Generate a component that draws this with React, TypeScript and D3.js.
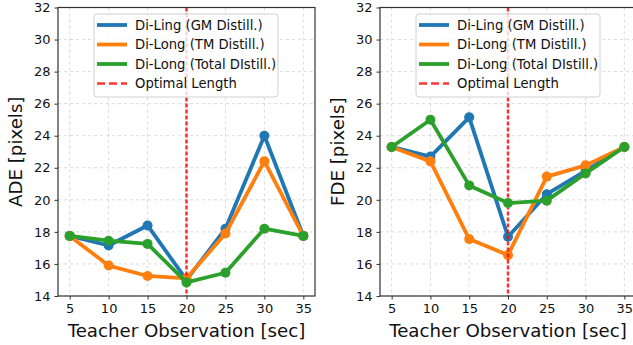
import { useEffect, useRef } from 'react'
import * as d3 from 'd3'

const observation = [5, 10, 15, 20, 25, 30, 35]
const seriesNames = ['Di-Ling (GM Distill.)', 'Di-Long (TM Distill.)', 'Di-Long (Total DIstill.)']
const seriesColors = ['#1f77b4', '#ff7f0e', '#2ca02c']
const optimalLength = 20
const yTicks = [14, 16, 18, 20, 22, 24, 26, 28, 30, 32]

const adeGM = [17.75, 17.15, 18.4, 15.0, 18.2, 24.0, 17.75]
const adeTM = [17.75, 15.9, 15.25, 15.1, 17.9, 22.4, 17.75]
const adeTotal = [17.75, 17.45, 17.25, 14.85, 15.45, 18.2, 17.75]

const fdeGM = [23.3, 22.7, 25.15, 17.7, 20.35, 21.8, 23.3]
const fdeTM = [23.3, 22.4, 17.55, 16.55, 21.45, 22.15, 23.3]
const fdeTotal = [23.3, 25.0, 20.9, 19.8, 19.95, 21.65, 23.3]

const FONT = 'DejaVu Sans, sans-serif'

function drawPanel(
  g: d3.Selection<SVGGElement, unknown, null, undefined>,
  left: number,
  right: number,
  ylabel: string,
  ylabelX: number,
  series: number[][],
) {
  const top = 7.5
  const bottom = 296
  const x = d3.scaleLinear().domain([3.5, 36.5]).range([left, right])
  const y = d3.scaleLinear().domain([14, 32]).range([bottom, top])

  // grid
  g.append('g')
    .selectAll('line')
    .data(observation)
    .join('line')
    .attr('x1', d => x(d)).attr('x2', d => x(d))
    .attr('y1', top).attr('y2', bottom)
    .attr('stroke', '#b0b0b0').attr('stroke-opacity', 0.6)
    .attr('stroke-width', 0.8).attr('stroke-dasharray', '3,3')
  g.append('g')
    .selectAll('line')
    .data(yTicks)
    .join('line')
    .attr('x1', left).attr('x2', right)
    .attr('y1', d => y(d)).attr('y2', d => y(d))
    .attr('stroke', '#b0b0b0').attr('stroke-opacity', 0.6)
    .attr('stroke-width', 0.8).attr('stroke-dasharray', '3,3')

  const line = d3.line<number>()
    .x((_, i) => x(observation[i]))
    .y(d => y(d))

  const drawSeries = (vals: number[], color: string) => {
    g.append('path')
      .attr('d', line(vals) as string)
      .attr('fill', 'none')
      .attr('stroke', color)
      .attr('stroke-width', 3.8)
      .attr('stroke-linejoin', 'round')
    g.append('g')
      .selectAll('circle')
      .data(vals)
      .join('circle')
      .attr('cx', (_, i) => x(observation[i]))
      .attr('cy', d => y(d))
      .attr('r', 5)
      .attr('fill', color)
  }

  drawSeries(series[0], seriesColors[0])
  drawSeries(series[1], seriesColors[1])

  g.append('line')
    .attr('x1', x(optimalLength)).attr('x2', x(optimalLength))
    .attr('y1', top).attr('y2', bottom)
    .attr('stroke', 'red').attr('stroke-opacity', 0.8)
    .attr('stroke-width', 2.5).attr('stroke-dasharray', '4,2')

  drawSeries(series[2], seriesColors[2])

  // frame
  g.append('rect')
    .attr('x', left).attr('y', top)
    .attr('width', right - left).attr('height', bottom - top)
    .attr('fill', 'none').attr('stroke', '#333').attr('stroke-width', 1.2)

  // axes
  const xa = g.append('g').attr('transform', `translate(0,${bottom})`)
    .call(d3.axisBottom(x).tickValues(observation).tickSize(3.5).tickPadding(4))
  xa.select('.domain').remove()
  xa.selectAll('text').attr('font-size', 13).attr('font-family', FONT).attr('fill', '#111')
  xa.selectAll('line').attr('stroke', '#333')

  const ya = g.append('g').attr('transform', `translate(${left},0)`)
    .call(d3.axisLeft(y).tickValues(yTicks).tickSize(3.5).tickPadding(4))
  ya.select('.domain').remove()
  ya.selectAll('text').attr('font-size', 13).attr('font-family', FONT).attr('fill', '#111')
  ya.selectAll('line').attr('stroke', '#333')

  g.append('text')
    .attr('x', (x(5) + x(35)) / 2).attr('y', 337)
    .attr('text-anchor', 'middle')
    .attr('font-size', 18.2).attr('font-family', FONT).attr('fill', '#111')
    .text('Teacher Observation [sec]')

  g.append('text')
    .attr('transform', `translate(${ylabelX},${(top + bottom) / 2}) rotate(-90)`)
    .attr('text-anchor', 'middle')
    .attr('font-size', 18.2).attr('font-family', FONT).attr('fill', '#111')
    .text(ylabel)

  // legend
  const lg = g.append('g').attr('transform', `translate(${left + 36},14)`)
  lg.append('rect')
    .attr('width', 184).attr('height', 83).attr('rx', 3)
    .attr('fill', 'white').attr('fill-opacity', 0.8)
    .attr('stroke', '#d0d0d0')
  const items = [...seriesNames, 'Optimal Length']
  items.forEach((name, i) => {
    const yy = 11 + i * 19.5
    lg.append('line')
      .attr('x1', 3).attr('x2', 33).attr('y1', yy).attr('y2', yy)
      .attr('stroke', i < 3 ? seriesColors[i] : 'red')
      .attr('stroke-opacity', i < 3 ? 1 : 0.8)
      .attr('stroke-width', i < 3 ? 3.8 : 2.5)
      .attr('stroke-dasharray', i < 3 ? null : '8,4')
    lg.append('text')
      .attr('x', 41).attr('y', yy + 4.5)
      .attr('font-size', 13.2).attr('font-family', FONT).attr('fill', '#111')
      .text(name)
  })
}

export default function App() {
  const ref = useRef<SVGSVGElement>(null)

  useEffect(() => {
    if (!ref.current) return
    const svg = d3.select(ref.current)
    svg.selectAll('*').remove()

    drawPanel(svg.append('g'), 58, 315, 'ADE [pixels]', 22, [adeGM, adeTM, adeTotal])
    drawPanel(svg.append('g'), 380, 636, 'FDE [pixels]', 344, [fdeGM, fdeTM, fdeTotal])
  }, [])

  return (
    <svg
      ref={ref}
      width={633}
      height={345}
      style={{ display: 'block', position: 'absolute', left: 0, top: 0, background: 'white' }}
    />
  )
}
